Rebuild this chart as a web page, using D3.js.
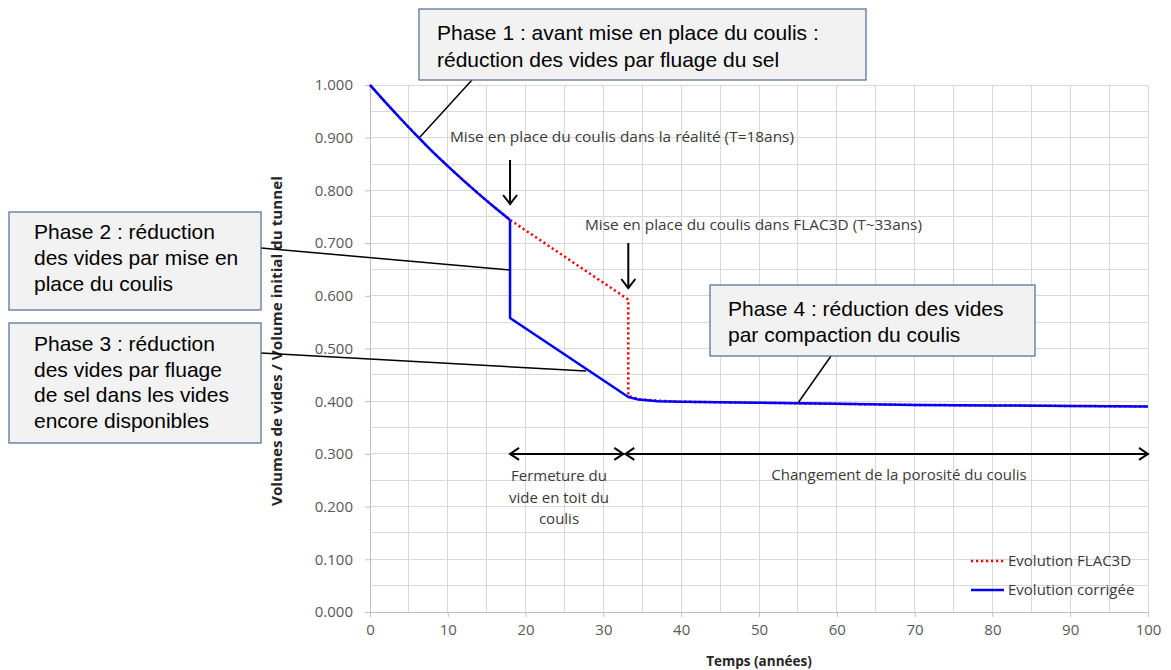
<!DOCTYPE html>
<html><head><meta charset="utf-8">
<script src="https://cdn.jsdelivr.net/npm/d3@7"></script>
<style>body{margin:0;background:#fff}</style>
</head><body>
<svg id="c" width="1171" height="670"></svg>
<script>
// ---- data ----
const timeCorr = [0, 2, 4, 6, 8, 10, 12, 14, 16, 18, 18, 33.2, 34.5, 37, 40, 50, 60, 70, 80, 90, 100];
const valCorr  = [1.000, 0.967, 0.935, 0.904, 0.874, 0.846, 0.819, 0.793, 0.768, 0.744, 0.558, 0.408, 0.403, 0.400, 0.399, 0.397, 0.395, 0.393, 0.392, 0.391, 0.390];
const timeFLAC = [0, 2, 4, 6, 8, 10, 12, 14, 16, 18, 33.2, 33.2, 34.5, 37, 40, 50, 60, 70, 80, 90, 100];
const valFLAC  = [1.000, 0.967, 0.935, 0.904, 0.874, 0.846, 0.819, 0.793, 0.768, 0.744, 0.593, 0.410, 0.404, 0.401, 0.399, 0.397, 0.395, 0.393, 0.392, 0.391, 0.390];
const xTicks = [0, 10, 20, 30, 40, 50, 60, 70, 80, 90, 100];
const yTicks = [0, 0.1, 0.2, 0.3, 0.4, 0.5, 0.6, 0.7, 0.8, 0.9, 1.0];
const xGrid = d3.range(0, 101, 5);
const yGrid = d3.range(0, 21).map(i => i * 0.05);
const seriesNames = ["Evolution FLAC3D", "Evolution corrigée"];
const xTitle = "Temps (années)";
const yTitle = "Volumes de vides / Volume initial du tunnel";

const svg = d3.select("#c");
const x = d3.scaleLinear().domain([0, 100]).range([370, 1148]);
const y = d3.scaleLinear().domain([0, 1]).range([612, 85]);
const tickFont = "'Open Sans', sans-serif";
const boxFont = "'Liberation Sans', Arial, sans-serif";

// grid
svg.append("g").selectAll("line").data(xGrid).join("line")
  .attr("x1", d => x(d)).attr("x2", d => x(d)).attr("y1", y(0)).attr("y2", y(1))
  .attr("stroke", "#d9d9d9").attr("stroke-width", 1).attr("shape-rendering", "crispEdges");
svg.append("g").selectAll("line").data(yGrid).join("line")
  .attr("x1", x(0)).attr("x2", x(100)).attr("y1", d => y(d)).attr("y2", d => y(d))
  .attr("stroke", "#d9d9d9").attr("stroke-width", 1).attr("shape-rendering", "crispEdges");

// axes
const xAxis = svg.append("g").attr("transform", `translate(0,${y(0)})`)
  .call(d3.axisBottom(x).tickValues(xTicks).tickFormat(d3.format("d")).tickSize(5).tickPadding(7));
const yAxis = svg.append("g").attr("transform", `translate(${x(0)},0)`)
  .call(d3.axisLeft(y).tickValues(yTicks).tickFormat(d3.format(".3f")).tickSize(5).tickPadding(12));
[xAxis, yAxis].forEach(a => {
  a.select(".domain").attr("stroke", "#bfbfbf");
  a.selectAll(".tick line").attr("stroke", "#bfbfbf");
  a.selectAll(".tick text").attr("fill", "#595959").style("font-family", tickFont).style("font-size", "15px");
});

// axis titles
svg.append("text").attr("x", 759).attr("y", 666).attr("text-anchor", "middle")
  .style("font-family", tickFont).style("font-size", "13.5px").style("font-weight", "bold").attr("fill", "#262626")
  .text(xTitle);
svg.append("text").attr("transform", "translate(282,341) rotate(-90)").attr("text-anchor", "middle")
  .style("font-family", tickFont).style("font-size", "14px").style("font-weight", "bold").attr("fill", "#262626")
  .attr("textLength", 330).attr("lengthAdjust", "spacingAndGlyphs")
  .text(yTitle);

// series
const line = d3.line().x(d => x(d[0])).y(d => y(d[1]));
const flac = timeFLAC.map((t, i) => [t, valFLAC[i]]);
const corr = timeCorr.map((t, i) => [t, valCorr[i]]);
svg.append("path").attr("d", line(flac)).attr("fill", "none").attr("stroke", "#ff0000")
  .attr("stroke-width", 2.5).attr("stroke-dasharray", "2.2 2.8");
svg.append("path").attr("d", d3.line().curve(d3.curveMonotoneX).x(d => x(d[0])).y(d => y(d[1]))(corr.slice(0, 10)))
  .attr("fill", "none").attr("stroke", "#0000ff").attr("stroke-width", 2.5).attr("stroke-linejoin", "round");
svg.append("path").attr("d", line(corr.slice(9))).attr("fill", "none").attr("stroke", "#0000ff")
  .attr("stroke-width", 2.5).attr("stroke-linejoin", "round");

// annotation texts in chart
const annColor = "#3a3a3a";
function annText(tx, ty, str, len, anchor) {
  const t = svg.append("text").attr("x", tx).attr("y", ty).attr("fill", annColor)
    .attr("text-anchor", anchor || "start")
    .style("font-family", tickFont).style("font-size", "15px").text(str);
  if (len) t.attr("textLength", len).attr("lengthAdjust", "spacingAndGlyphs");
  return t;
}
annText(450, 142, "Mise en place du coulis dans la réalité (T=18ans)", 344);
annText(585, 230, "Mise en place du coulis dans FLAC3D (T~33ans)", 337);

// down arrows
function downArrow(cx, y1, y2) {
  svg.append("line").attr("x1", cx).attr("x2", cx).attr("y1", y1).attr("y2", y2)
    .attr("stroke", "#000").attr("stroke-width", 2);
  svg.append("path").attr("d", `M${cx - 7},${y2 - 9} L${cx},${y2} L${cx + 7},${y2 - 9}`)
    .attr("fill", "none").attr("stroke", "#000").attr("stroke-width", 2);
}
downArrow(x(18), 160, 204);
downArrow(x(33.2), 243, 288);

// double arrows at 0.3
function dblArrow(t1, t2, v, pad1, pad2) {
  const x1 = x(t1) + pad1, x2 = x(t2) - pad2, yy = y(v);
  svg.append("line").attr("x1", x1).attr("x2", x2).attr("y1", yy).attr("y2", yy)
    .attr("stroke", "#000").attr("stroke-width", 2);
  svg.append("path").attr("d", `M${x1 + 9},${yy - 6} L${x1},${yy} L${x1 + 9},${yy + 6}`)
    .attr("fill", "none").attr("stroke", "#000").attr("stroke-width", 2);
  svg.append("path").attr("d", `M${x2 - 9},${yy - 6} L${x2},${yy} L${x2 - 9},${yy + 6}`)
    .attr("fill", "none").attr("stroke", "#000").attr("stroke-width", 2);
}
dblArrow(18, 33.2, 0.3, 0, 5);
dblArrow(33.2, 100, 0.3, -3, 0);

annText(559, 481, "Fermeture du", null, "middle");
annText(559, 503, "vide en toit du", null, "middle");
annText(559, 524, "coulis", null, "middle");
annText(899, 480, "Changement de la porosité du coulis", null, "middle");

// legend
const leg = [
  { name: seriesNames[0], color: "#ff0000", dash: "2.2 2.8", yy: 561 },
  { name: seriesNames[1], color: "#0000ff", dash: null, yy: 590 }
];
leg.forEach(l => {
  const ln = svg.append("line").attr("x1", 971).attr("x2", 1004).attr("y1", l.yy).attr("y2", l.yy)
    .attr("stroke", l.color).attr("stroke-width", 2.5);
  if (l.dash) ln.attr("stroke-dasharray", l.dash);
  annText(1008, l.yy + 5, l.name);
});

// callout boxes
const boxes = [
  { x0: 419, y0: 9, w: 447, h: 71, tx: 437, lines: ["Phase 1 : avant mise en place du coulis :", "réduction des vides par fluage du sel"], by: 40, dy: 27,
    lead: [[472, 80], [420, 137]] },
  { x0: 9, y0: 212, w: 252, h: 98, tx: 34, lines: ["Phase 2 : réduction", "des vides par mise en", "place du coulis"], by: 239, dy: 26,
    lead: [[261, 248], [510, 270]] },
  { x0: 9, y0: 323, w: 252, h: 120, tx: 34, lines: ["Phase 3 : réduction", "des vides par fluage", "de sel dans les vides", "encore disponibles"], by: 351, dy: 25.5,
    lead: [[261, 353], [586, 371]] },
  { x0: 710, y0: 285, w: 325, h: 71, tx: 728, lines: ["Phase 4 : réduction des vides", "par compaction du coulis"], by: 316, dy: 26,
    lead: [[831, 356], [798, 403]] }
];
boxes.forEach(b => {
  svg.append("line").attr("x1", b.lead[0][0]).attr("y1", b.lead[0][1]).attr("x2", b.lead[1][0]).attr("y2", b.lead[1][1])
    .attr("stroke", "#000").attr("stroke-width", 1.5);
  svg.append("rect").attr("x", b.x0).attr("y", b.y0).attr("width", b.w).attr("height", b.h)
    .attr("fill", "#f2f2f2").attr("stroke", "#4f6b8f").attr("stroke-width", 1.2);
  b.lines.forEach((s, i) => {
    svg.append("text").attr("x", b.tx).attr("y", b.by + i * b.dy).attr("fill", "#000")
      .style("font-family", boxFont).style("font-size", "21px").text(s);
  });
});
</script>
</body></html>
